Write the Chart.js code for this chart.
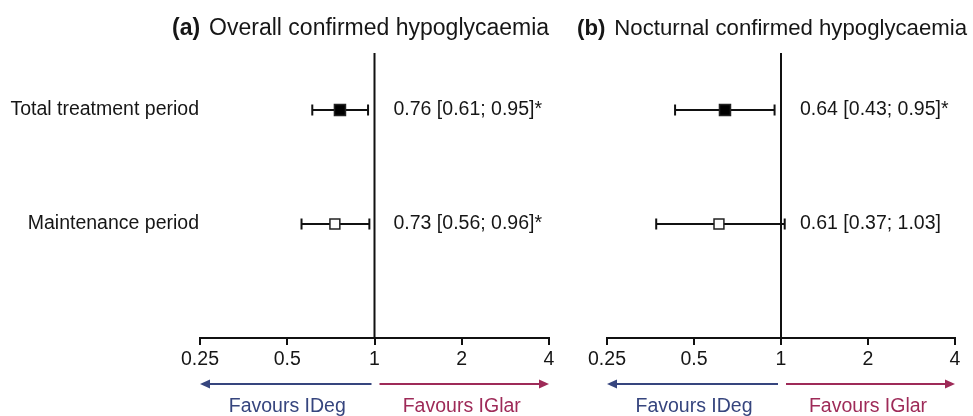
<!DOCTYPE html>
<html>
<head>
<meta charset="utf-8">
<script src="https://cdn.jsdelivr.net/npm/chart.js@4/dist/chart.umd.min.js"></script>
<style>
  body { margin: 0; background: #fff; }
  #wrap { position: relative; width: 973px; height: 416px; }
  canvas { position: absolute; top: 0; }
</style>
</head>
<body>
<div id="wrap">
  <canvas id="panelA" width="560" height="416" style="left:0"></canvas>
  <canvas id="panelB" width="413" height="416" style="left:560px"></canvas>
</div>
<script>
// Rows of the forest plot (y positions on a 0..5 reversed scale)
const rowLabels = ['Total treatment period', 'Maintenance period'];
const rowPos = [1, 3];
const rowFilled = [true, false];

// X axis ticks (log scale, ratio)
const xTicks = [0.25, 0.5, 1, 2, 4];

// (a) Overall confirmed hypoglycaemia
const overallEst = [0.76, 0.73];
const overallLow = [0.61, 0.56];
const overallHigh = [0.95, 0.96];
const overallNote = ['*', '*'];

// (b) Nocturnal confirmed hypoglycaemia
const nocturnalEst = [0.64, 0.61];
const nocturnalLow = [0.43, 0.37];
const nocturnalHigh = [0.95, 1.03];
const nocturnalNote = ['*', ''];

const FONT = "'Liberation Sans', Arial, Helvetica, sans-serif";
const BLUE = '#36457e';
const RED = '#9e2a58';
const INK = '#161616';

Chart.defaults.font.family = FONT;
Chart.defaults.font.size = 19.5;
Chart.defaults.color = INK;

// Draws title, value labels and the "Favours" arrows
const panelDecor = {
    id: 'panelDecor',
    afterDraw(chart, args, opts) {
        const ctx = chart.ctx;
        const xs = chart.scales.x;
        const ys = chart.scales.y;
        ctx.save();
        ctx.fillStyle = INK;
        ctx.textBaseline = 'middle';
        ctx.textAlign = 'left';

        // title: bold tag + normal text
        ctx.font = 'bold ' + opts.titleSize + 'px ' + FONT;
        ctx.fillText(opts.tag, opts.titleX, 29);
        const tagW = ctx.measureText(opts.tag).width;
        ctx.font = opts.titleSize + 'px ' + FONT;
        ctx.fillText(opts.title, opts.titleX + tagW + 9, 29);

        // value labels right of the no-effect line
        ctx.font = '19.5px ' + FONT;
        const x1 = xs.getPixelForValue(1);
        opts.est.forEach((v, i) => {
            const txt = v.toFixed(2) + ' [' + opts.low[i].toFixed(2) + '; ' + opts.high[i].toFixed(2) + ']' + opts.note[i];
            ctx.fillText(txt, x1 + 19, ys.getPixelForValue(rowPos[i]));
        });

        // arrows
        const ay = chart.chartArea.bottom + 46;
        const drawArrow = (from, to, color) => {
            const dir = Math.sign(to - from);
            ctx.strokeStyle = color;
            ctx.fillStyle = color;
            ctx.lineWidth = 2;
            ctx.beginPath();
            ctx.moveTo(from, ay);
            ctx.lineTo(to - dir * 6, ay);
            ctx.stroke();
            ctx.beginPath();
            ctx.moveTo(to, ay);
            ctx.lineTo(to - dir * 10, ay - 4.5);
            ctx.lineTo(to - dir * 10, ay + 4.5);
            ctx.closePath();
            ctx.fill();
        };
        drawArrow(x1 - 3, xs.left, BLUE);
        drawArrow(x1 + 5, xs.right, RED);

        ctx.textAlign = 'center';
        ctx.font = '19.5px ' + FONT;
        ctx.fillStyle = BLUE;
        ctx.fillText('Favours IDeg', (xs.left + x1) / 2, ay + 23);
        ctx.fillStyle = RED;
        ctx.fillText('Favours IGlar', (xs.right + x1) / 2, ay + 23);
        ctx.restore();
    }
};

function makePanel(id, cfg) {
    const datasets = [];
    // point estimates (first = drawn on top)
    cfg.est.forEach((v, i) => {
        datasets.push({
            type: 'scatter',
            data: [{ x: v, y: rowPos[i] }],
            pointStyle: 'rect',
            pointRadius: rowFilled[i] ? 7.8 : 7,
            pointBackgroundColor: rowFilled[i] ? '#000' : '#fff',
            pointBorderColor: '#222',
            pointBorderWidth: 1.5
        });
    });
    // confidence intervals with end caps
    cfg.est.forEach((v, i) => {
        datasets.push({
            type: 'line',
            data: [{ x: cfg.low[i], y: rowPos[i] }, { x: cfg.high[i], y: rowPos[i] }],
            borderColor: '#111',
            borderWidth: 2,
            pointStyle: 'line',
            pointRotation: 90,
            pointRadius: 5.5,
            pointBorderWidth: 2,
            pointBorderColor: '#111'
        });
    });
    // no-effect line at ratio 1
    datasets.push({
        type: 'line',
        data: [{ x: 1, y: 0 }, { x: 1, y: 5 }],
        borderColor: '#111',
        borderWidth: 2,
        pointRadius: 0
    });

    new Chart(document.getElementById(id), {
        data: { datasets },
        options: {
            responsive: false,
            animation: false,
            events: [],
            layout: { padding: { top: 53, left: cfg.padLeft, right: cfg.padRight, bottom: 0 } },
            scales: {
                x: {
                    type: 'logarithmic',
                    min: 0.25,
                    max: 4,
                    afterBuildTicks: (s) => { s.ticks = xTicks.map(v => ({ value: v })); },
                    afterFit: (s) => { s.height = 78; },
                    ticks: {
                        autoSkip: false,
                        maxRotation: 0,
                        padding: 3,
                        color: INK,
                        callback: (v) => String(v)
                    },
                    grid: { drawOnChartArea: false, drawTicks: true, tickLength: 7, color: '#111', lineWidth: 2 },
                    border: { display: true, color: '#111', width: 2 }
                },
                y: {
                    type: 'linear',
                    min: 0,
                    max: 5,
                    reverse: true,
                    display: cfg.showRows,
                    afterBuildTicks: (s) => { s.ticks = rowPos.map(v => ({ value: v })); },
                    afterFit: (s) => { s.width = cfg.rowWidth; },
                    ticks: {
                        padding: 1,
                        color: INK,
                        callback: (v) => rowLabels[rowPos.indexOf(v)] || ''
                    },
                    grid: { display: false, drawTicks: false, tickLength: 0 },
                    border: { display: false }
                }
            },
            plugins: {
                legend: { display: false },
                tooltip: { enabled: false },
                panelDecor: cfg.decor
            }
        },
        plugins: [panelDecor]
    });
}

makePanel('panelA', {
    est: overallEst, low: overallLow, high: overallHigh,
    padLeft: 0, padRight: 11, showRows: true, rowWidth: 200,
    decor: { tag: '(a)', title: 'Overall confirmed hypoglycaemia', titleX: 172, titleSize: 23,
             est: overallEst, low: overallLow, high: overallHigh, note: overallNote }
});

makePanel('panelB', {
    est: nocturnalEst, low: nocturnalLow, high: nocturnalHigh,
    padLeft: 47, padRight: 18, showRows: false, rowWidth: 0,
    decor: { tag: '(b)', title: 'Nocturnal confirmed hypoglycaemia', titleX: 17, titleSize: 22.2,
             est: nocturnalEst, low: nocturnalLow, high: nocturnalHigh, note: nocturnalNote }
});
</script>
</body>
</html>
